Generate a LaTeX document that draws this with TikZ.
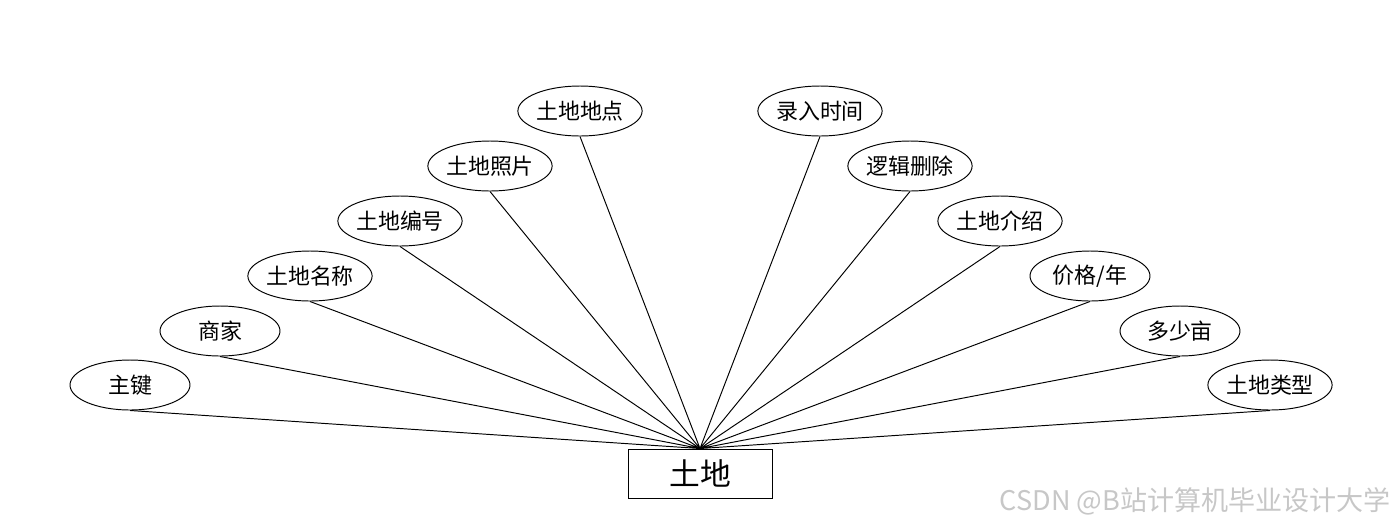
\documentclass[tikz,border=0pt]{standalone}
\usepackage{fontspec}
\newfontfamily\cjk{Noto Sans CJK SC}
\usetikzlibrary{shapes.geometric}
\tikzset{attr/.style={draw,ellipse,minimum width=2.4cm,minimum height=1cm,inner sep=0pt,font=\cjk\fontsize{12.5}{14}\selectfont},
ent/.style={draw,rectangle,minimum width=2.88cm,minimum height=.98cm,inner sep=0pt,font=\cjk\fontsize{17.5}{20}\selectfont}}
\begin{document}
\begin{tikzpicture}[x=.02cm,y=-.02cm,line width=.55pt]
\useasboundingbox(0,0)rectangle(1400,528);
\node[ent](land)at(700,473.5){土地};
\node[attr](k1)at(130,385){主键};\node[attr](k2)at(220,331){商家};\node[attr](k3)at(310,276){土地名称};
\node[attr](k4)at(400,221){土地编号};\node[attr](k5)at(490,166){土地照片};\node[attr](k6)at(580,111){土地地点};
\node[attr](k7)at(820,111){录入时间};\node[attr](k8)at(910,166){逻辑删除};\node[attr](k9)at(1000,221){土地介绍};
\node[attr](k10)at(1090,276){价格/年};\node[attr](k11)at(1180,331){多少亩};\node[attr](k12)at(1270,385){土地类型};
\draw(k1.south)--(land.north)(k2.south)--(land.north)(k3.south)--(land.north)(k4.south)--(land.north);
\draw(k5.south)--(land.north)(k6.south)--(land.north)(k7.south)--(land.north)(k8.south)--(land.north);
\draw(k9.south)--(land.north)(k10.south)--(land.north)(k11.south)--(land.north)(k12.south)--(land.north);
\node[anchor=base east,text=black!22,font=\cjk\fontsize{15.4}{18}\selectfont](wm)at(1397,510){CSDN @B站计算机毕业设计大学};
\end{tikzpicture}
\end{document}
